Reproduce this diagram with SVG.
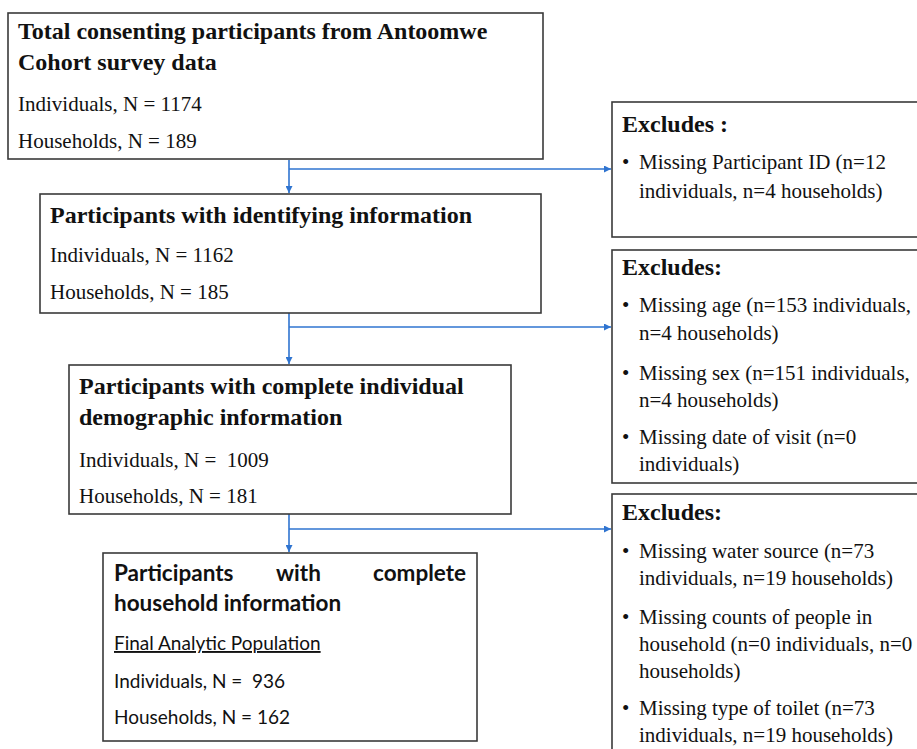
<svg xmlns="http://www.w3.org/2000/svg" width="917" height="749" viewBox="0 0 917 749">
<style>
.box{fill:#fff;stroke:#3a3a3a;stroke-width:1.6}
.t{font-family:"Liberation Serif","Times New Roman",serif;fill:#111}
.h{font-weight:bold;font-size:24px}
.b{font-size:21px}
.s{font-family:Lato,"Liberation Sans",sans-serif;fill:#111}
.sh{font-weight:bold;font-size:22.5px}
.sb{font-size:19px}
.c{stroke:#2f74d0;stroke-width:1.6;fill:none}
</style>
<defs>
<marker id="ah" viewBox="0 0 10 10" refX="10" refY="5" markerWidth="7" markerHeight="7" orient="auto" markerUnits="userSpaceOnUse">
<path d="M0,0 L10,5 L0,10 z" fill="#2f74d0"/>
</marker>
</defs>
<rect width="917" height="749" fill="#fff"/>

<g id="connectors">
<line class="c" x1="289" y1="160" x2="289" y2="193" marker-end="url(#ah)"/>
<line class="c" x1="289" y1="169" x2="611" y2="169" marker-end="url(#ah)"/>
<line class="c" x1="289" y1="313" x2="289" y2="364" marker-end="url(#ah)"/>
<line class="c" x1="289" y1="327" x2="611" y2="327" marker-end="url(#ah)"/>
<line class="c" x1="289" y1="514" x2="289" y2="552" marker-end="url(#ah)"/>
<line class="c" x1="289" y1="529" x2="611" y2="529" marker-end="url(#ah)"/>
</g>

<g id="node1">
<rect class="box" x="8" y="13" width="535" height="146"/>
<text class="t h" x="18" y="39">Total consenting participants from Antoomwe</text>
<text class="t h" x="18" y="70">Cohort survey data</text>
<text class="t b" x="18" y="111">Individuals, N = 1174</text>
<text class="t b" x="18" y="148">Households, N = 189</text>
</g>

<g id="node2">
<rect class="box" x="40" y="194" width="501" height="119"/>
<text class="t h" x="50" y="223">Participants with identifying information</text>
<text class="t b" x="50" y="262">Individuals, N = 1162</text>
<text class="t b" x="50" y="299">Households, N = 185</text>
</g>

<g id="node3">
<rect class="box" x="69" y="365" width="442" height="149"/>
<text class="t h" x="79" y="394">Participants with complete individual</text>
<text class="t h" x="79" y="425">demographic information</text>
<text class="t b" x="79" y="467">Individuals, N =&#160; 1009</text>
<text class="t b" x="79" y="503">Households, N = 181</text>
</g>

<g id="node4">
<rect class="box" x="103" y="553" width="374" height="188"/>
<text class="s sh" x="114" y="581">Participants</text>
<text class="s sh" x="276" y="581">with</text>
<text class="s sh" x="466" y="581" text-anchor="end">complete</text>
<text class="s sh" x="114" y="611">household information</text>
<text class="s sb" x="114" y="650" text-decoration="underline">Final Analytic Population</text>
<text class="s sb" x="114" y="688">Individuals, N =&#160; 936</text>
<text class="s sb" x="114" y="724">Households, N = 162</text>
</g>

<g id="excl1">
<rect class="box" x="612" y="102" width="320" height="135"/>
<text class="t h" x="622" y="132">Excludes :</text>
<text class="t b" x="622" y="169">•</text>
<text class="t b" x="639" y="169">Missing Participant ID (n=12</text>
<text class="t b" x="639" y="198">individuals, n=4 households)</text>
</g>

<g id="excl2">
<rect class="box" x="612" y="250" width="320" height="233"/>
<text class="t h" x="622" y="275">Excludes:</text>
<text class="t b" x="622" y="312">•</text>
<text class="t b" x="639" y="312">Missing age (n=153 individuals,</text>
<text class="t b" x="639" y="340">n=4 households)</text>
<text class="t b" x="622" y="380">•</text>
<text class="t b" x="639" y="380">Missing sex (n=151 individuals,</text>
<text class="t b" x="639" y="407">n=4 households)</text>
<text class="t b" x="622" y="444">•</text>
<text class="t b" x="639" y="444">Missing date of visit (n=0</text>
<text class="t b" x="639" y="471">individuals)</text>
</g>

<g id="excl3">
<rect class="box" x="612" y="494" width="320" height="270"/>
<text class="t h" x="622" y="520">Excludes:</text>
<text class="t b" x="622" y="558">•</text>
<text class="t b" x="639" y="558">Missing water source (n=73</text>
<text class="t b" x="639" y="585">individuals, n=19 households)</text>
<text class="t b" x="622" y="624">•</text>
<text class="t b" x="639" y="624">Missing counts of people in</text>
<text class="t b" x="639" y="651">household (n=0 individuals, n=0</text>
<text class="t b" x="639" y="678">households)</text>
<text class="t b" x="622" y="715">•</text>
<text class="t b" x="639" y="715">Missing type of toilet (n=73</text>
<text class="t b" x="639" y="742">individuals, n=19 households)</text>
</g>
</svg>
